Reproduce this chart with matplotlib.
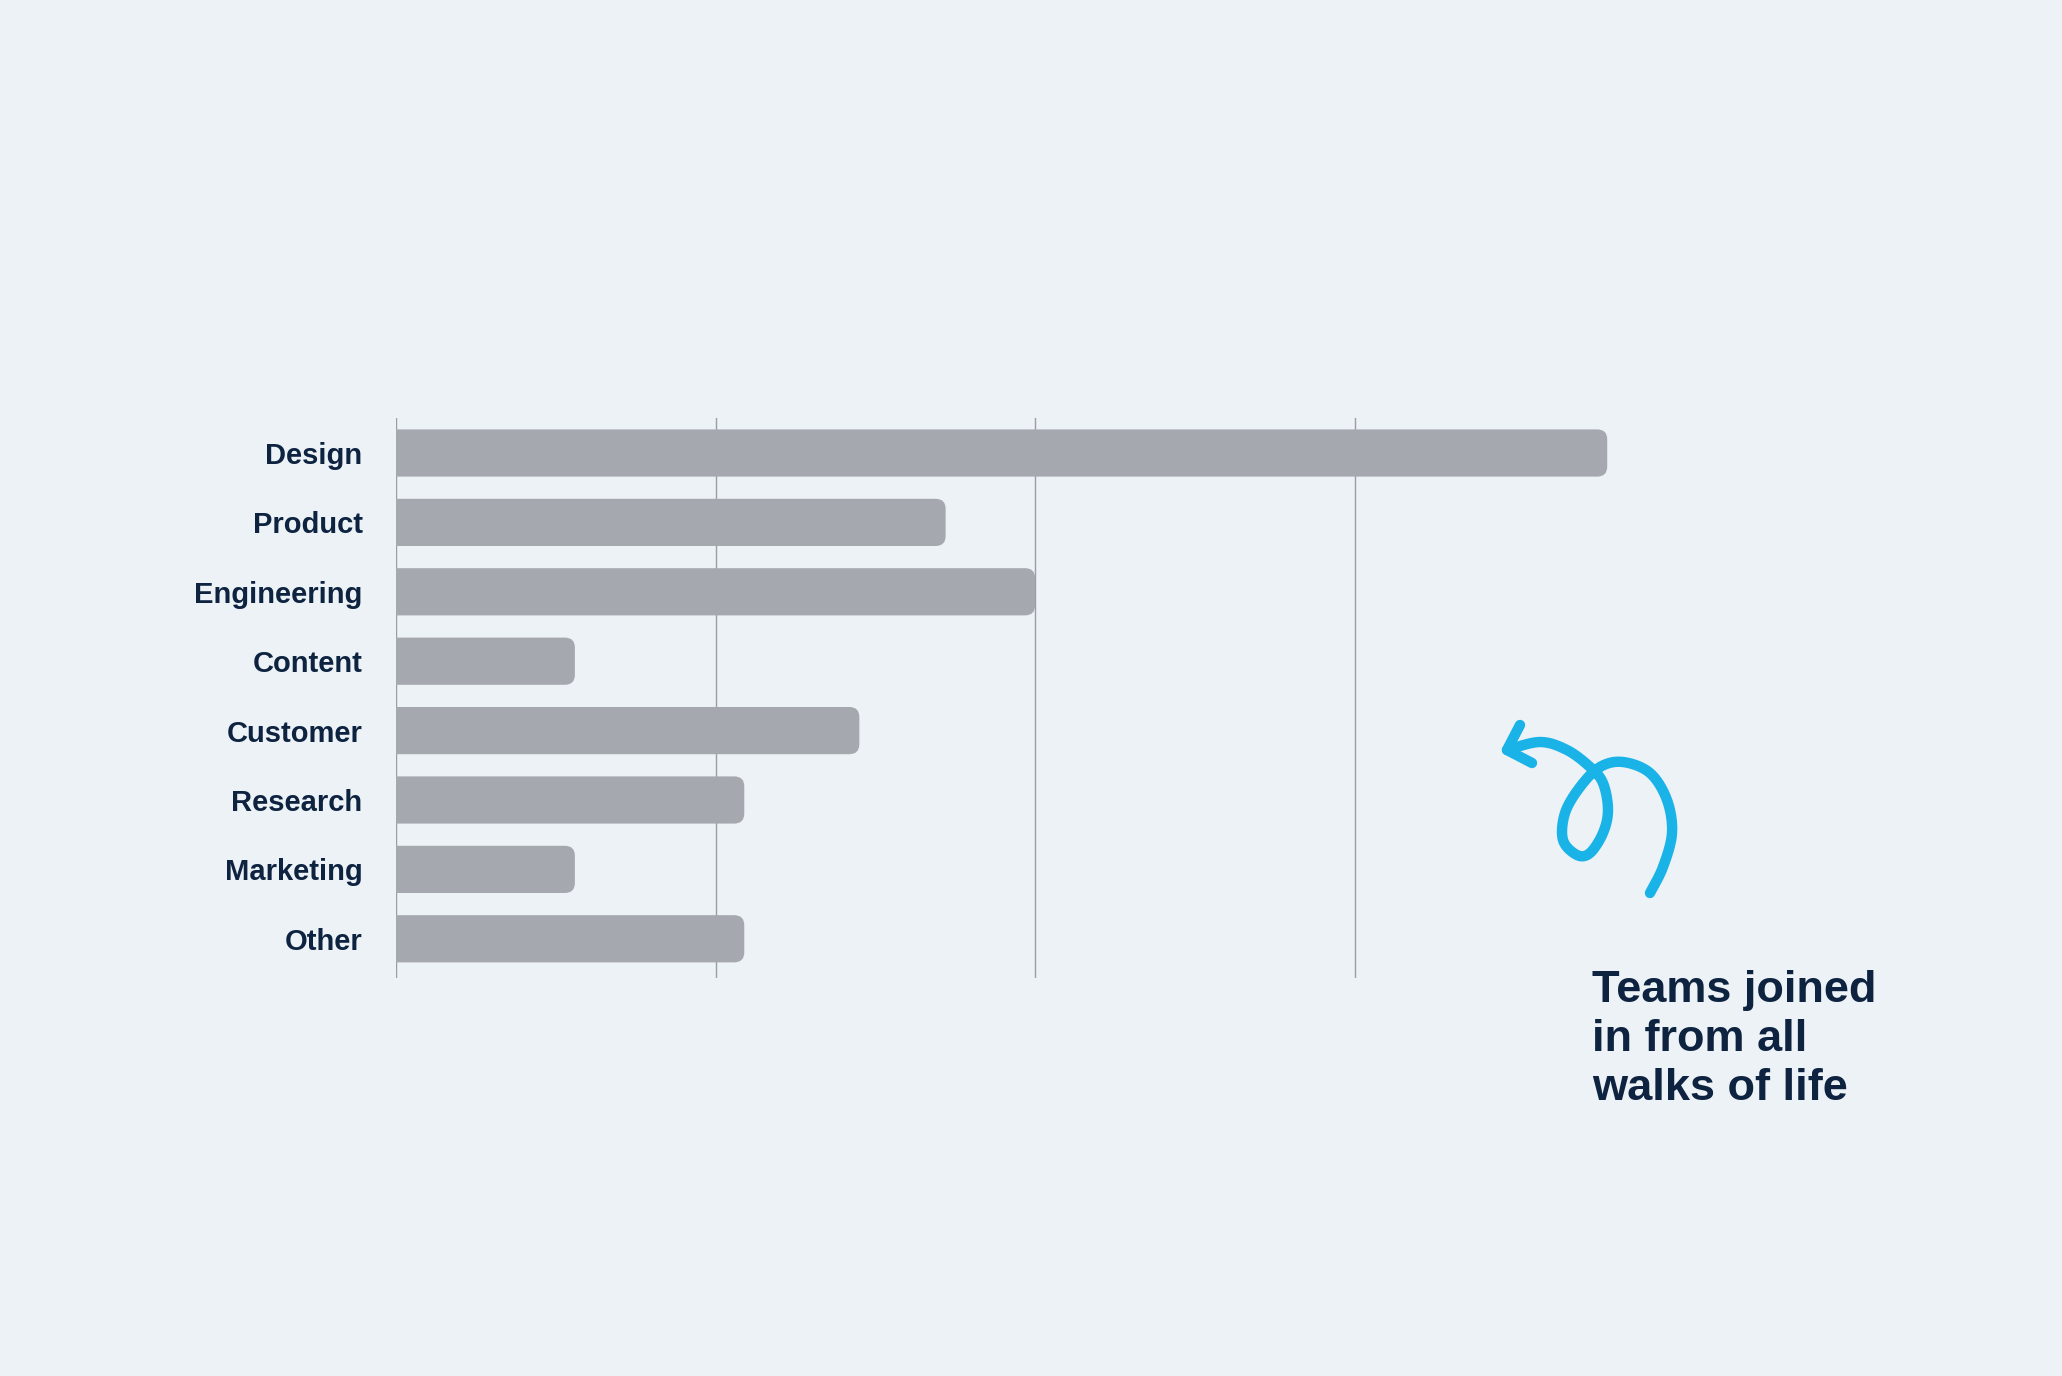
import matplotlib
matplotlib.use("Agg")
import matplotlib.pyplot as plt
import numpy as np
from matplotlib.patches import FancyBboxPatch

# data
teams = ["Design", "Product", "Engineering", "Content",
         "Customer", "Research", "Marketing", "Other"]
share = [37.9, 17.2, 20.0, 5.6, 14.5, 10.9, 5.6, 10.9]
grid_ticks = [0, 10, 20, 30]
note = "Teams joined\nin from all\nwalks of life"

BG = "#edf2f6"
BAR = "#a6a8b0"
NAVY = "#0d2340"
BLUE = "#1ab3e8"

plt.rcParams["font.family"] = ["Liberation Sans", "DejaVu Sans"]

fig = plt.figure(figsize=(20.62, 13.76), dpi=100, facecolor=BG)
ax = fig.add_axes([0.192, 0.289, 0.620, 0.407])
ax.set_facecolor(BG)

y = np.arange(len(teams))
bars = ax.barh(y, share, height=0.68, color=BAR, zorder=3)
ax.set_xlim(0, 40)
ax.set_ylim(7.57, -0.5)

# swap the square bars for ones with rounded right ends
fig.canvas.draw()
bbox = ax.get_window_extent()
px_x = bbox.width / 40.0
px_y = bbox.height / 8.07
r_px = 10
for b in bars:
    x0, y0 = b.get_x(), b.get_y()
    w, h = b.get_width(), b.get_height()
    b.set_visible(False)
    r = r_px / px_x
    p = FancyBboxPatch((x0 - 2 * r, y0), w + 2 * r, h,
                       boxstyle=f"round,pad=0,rounding_size={r}",
                       mutation_aspect=px_x / px_y,
                       facecolor=BAR, edgecolor="none", zorder=3,
                       clip_on=True)
    ax.add_patch(p)

ax.set_xticks(grid_ticks)
ax.set_xticklabels([])
ax.grid(axis="x", color="#9b9da4", linewidth=1.0, zorder=0)
ax.set_yticks(y)
ax.set_yticklabels(teams, fontsize=21, fontweight="bold", color=NAVY)
ax.tick_params(length=0, pad=24)
for s in ax.spines.values():
    s.set_visible(False)

# overlay in pixel space for the annotation
ov = fig.add_axes([0, 0, 1, 1], facecolor="none")
ov.set_xlim(0, 2062)
ov.set_ylim(1376, 0)
ov.axis("off")

ov.text(1592, 970, note, fontsize=32.5, fontweight="bold", color=NAVY,
        va="top", ha="left", linespacing=1.25)


def catmull(pts, n=20):
    pts = np.asarray(pts, float)
    pts = np.vstack([pts[0], pts, pts[-1]])
    out = []
    for i in range(1, len(pts) - 2):
        p0, p1, p2, p3 = pts[i - 1], pts[i], pts[i + 1], pts[i + 2]
        for t in np.linspace(0, 1, n, endpoint=False):
            t2, t3 = t * t, t * t * t
            out.append(0.5 * ((2 * p1) + (-p0 + p2) * t
                              + (2 * p0 - 5 * p1 + 4 * p2 - p3) * t2
                              + (-p0 + 3 * p1 - 3 * p2 + p3) * t3))
    out.append(pts[-2])
    return np.array(out)


curl = [(1650, 893), (1663, 867), (1672, 833), (1667, 800), (1650, 773),
        (1623, 762), (1600, 767), (1580, 787), (1565, 813), (1563, 840),
        (1577, 855), (1590, 853), (1603, 833), (1608, 810), (1603, 783),
        (1590, 767), (1567, 750), (1540, 742), (1507, 750)]
c = catmull(curl)
ov.plot(c[:, 0], c[:, 1], color=BLUE, lw=7.5, solid_capstyle="round",
        solid_joinstyle="round")
ov.plot([1520, 1507, 1532], [725, 750, 763], color=BLUE, lw=7.5,
        solid_capstyle="round", solid_joinstyle="round")

fig.savefig("out.png", dpi=100, facecolor=BG)
